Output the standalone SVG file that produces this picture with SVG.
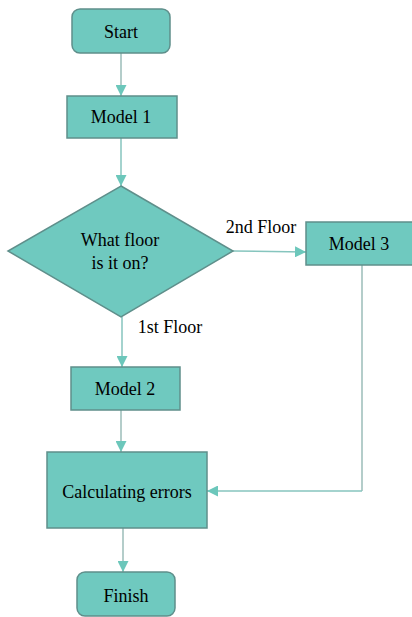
<svg xmlns="http://www.w3.org/2000/svg" width="412" height="617" viewBox="0 0 412 617">
<style>
.n{fill:#6fc9bf;stroke:#5f8f8b;stroke-width:1.5}
.t{font-family:"Liberation Serif","Times New Roman",serif;font-size:18px;fill:#000;text-anchor:middle}
.l{fill:none;stroke:#86c5be;stroke-width:1.5}
.g{fill:none;stroke:#9bbcb8;stroke-width:1.5}
</style>
<defs>
<marker id="a" viewBox="0 0 10 10" refX="10" refY="5" markerWidth="11" markerHeight="11" markerUnits="userSpaceOnUse" orient="auto">
<path d="M0,0 L10,5 L0,10 z" fill="#6cc7bb"/>
</marker>
</defs>
<rect width="412" height="617" fill="#fff"/>
<g id="connectors">
<path class="g" d="M121,53 V96" marker-end="url(#a)"/>
<path class="l" d="M121,138 V186" marker-end="url(#a)"/>
<path class="l" d="M233,251 L306,252" marker-end="url(#a)"/>
<path class="l" d="M122,317 V367" marker-end="url(#a)"/>
<path class="g" d="M121,410 V452" marker-end="url(#a)"/>
<path class="g" d="M362,265 V491"/>
<path class="l" d="M362,491 H207" marker-end="url(#a)"/>
<path class="g" d="M123,528 V572" marker-end="url(#a)"/>
<text class="t" x="261" y="233">2nd Floor</text>
<text class="t" x="170" y="333">1st Floor</text>
</g>
<g id="start">
<rect class="n" x="72" y="9" width="98" height="44" rx="8"/>
<text class="t" x="121" y="38">Start</text>
</g>
<g id="model1">
<rect class="n" x="67" y="96" width="110" height="42"/>
<text class="t" x="121" y="123">Model 1</text>
</g>
<g id="decision">
<polygon class="n" points="121,186 233,251 121,317 8,251"/>
<text class="t" x="120" y="246">What floor</text>
<text class="t" x="120" y="269">is it on?</text>
</g>
<g id="model3">
<rect class="n" x="306" y="222" width="110" height="43"/>
<text class="t" x="359" y="250">Model 3</text>
</g>
<g id="model2">
<rect class="n" x="71" y="367" width="109" height="43"/>
<text class="t" x="125" y="395">Model 2</text>
</g>
<g id="calc">
<rect class="n" x="47" y="452" width="160" height="76"/>
<text class="t" x="127" y="498">Calculating errors</text>
</g>
<g id="finish">
<rect class="n" x="77" y="572" width="98" height="44" rx="8"/>
<text class="t" x="126" y="602">Finish</text>
</g>
</svg>
